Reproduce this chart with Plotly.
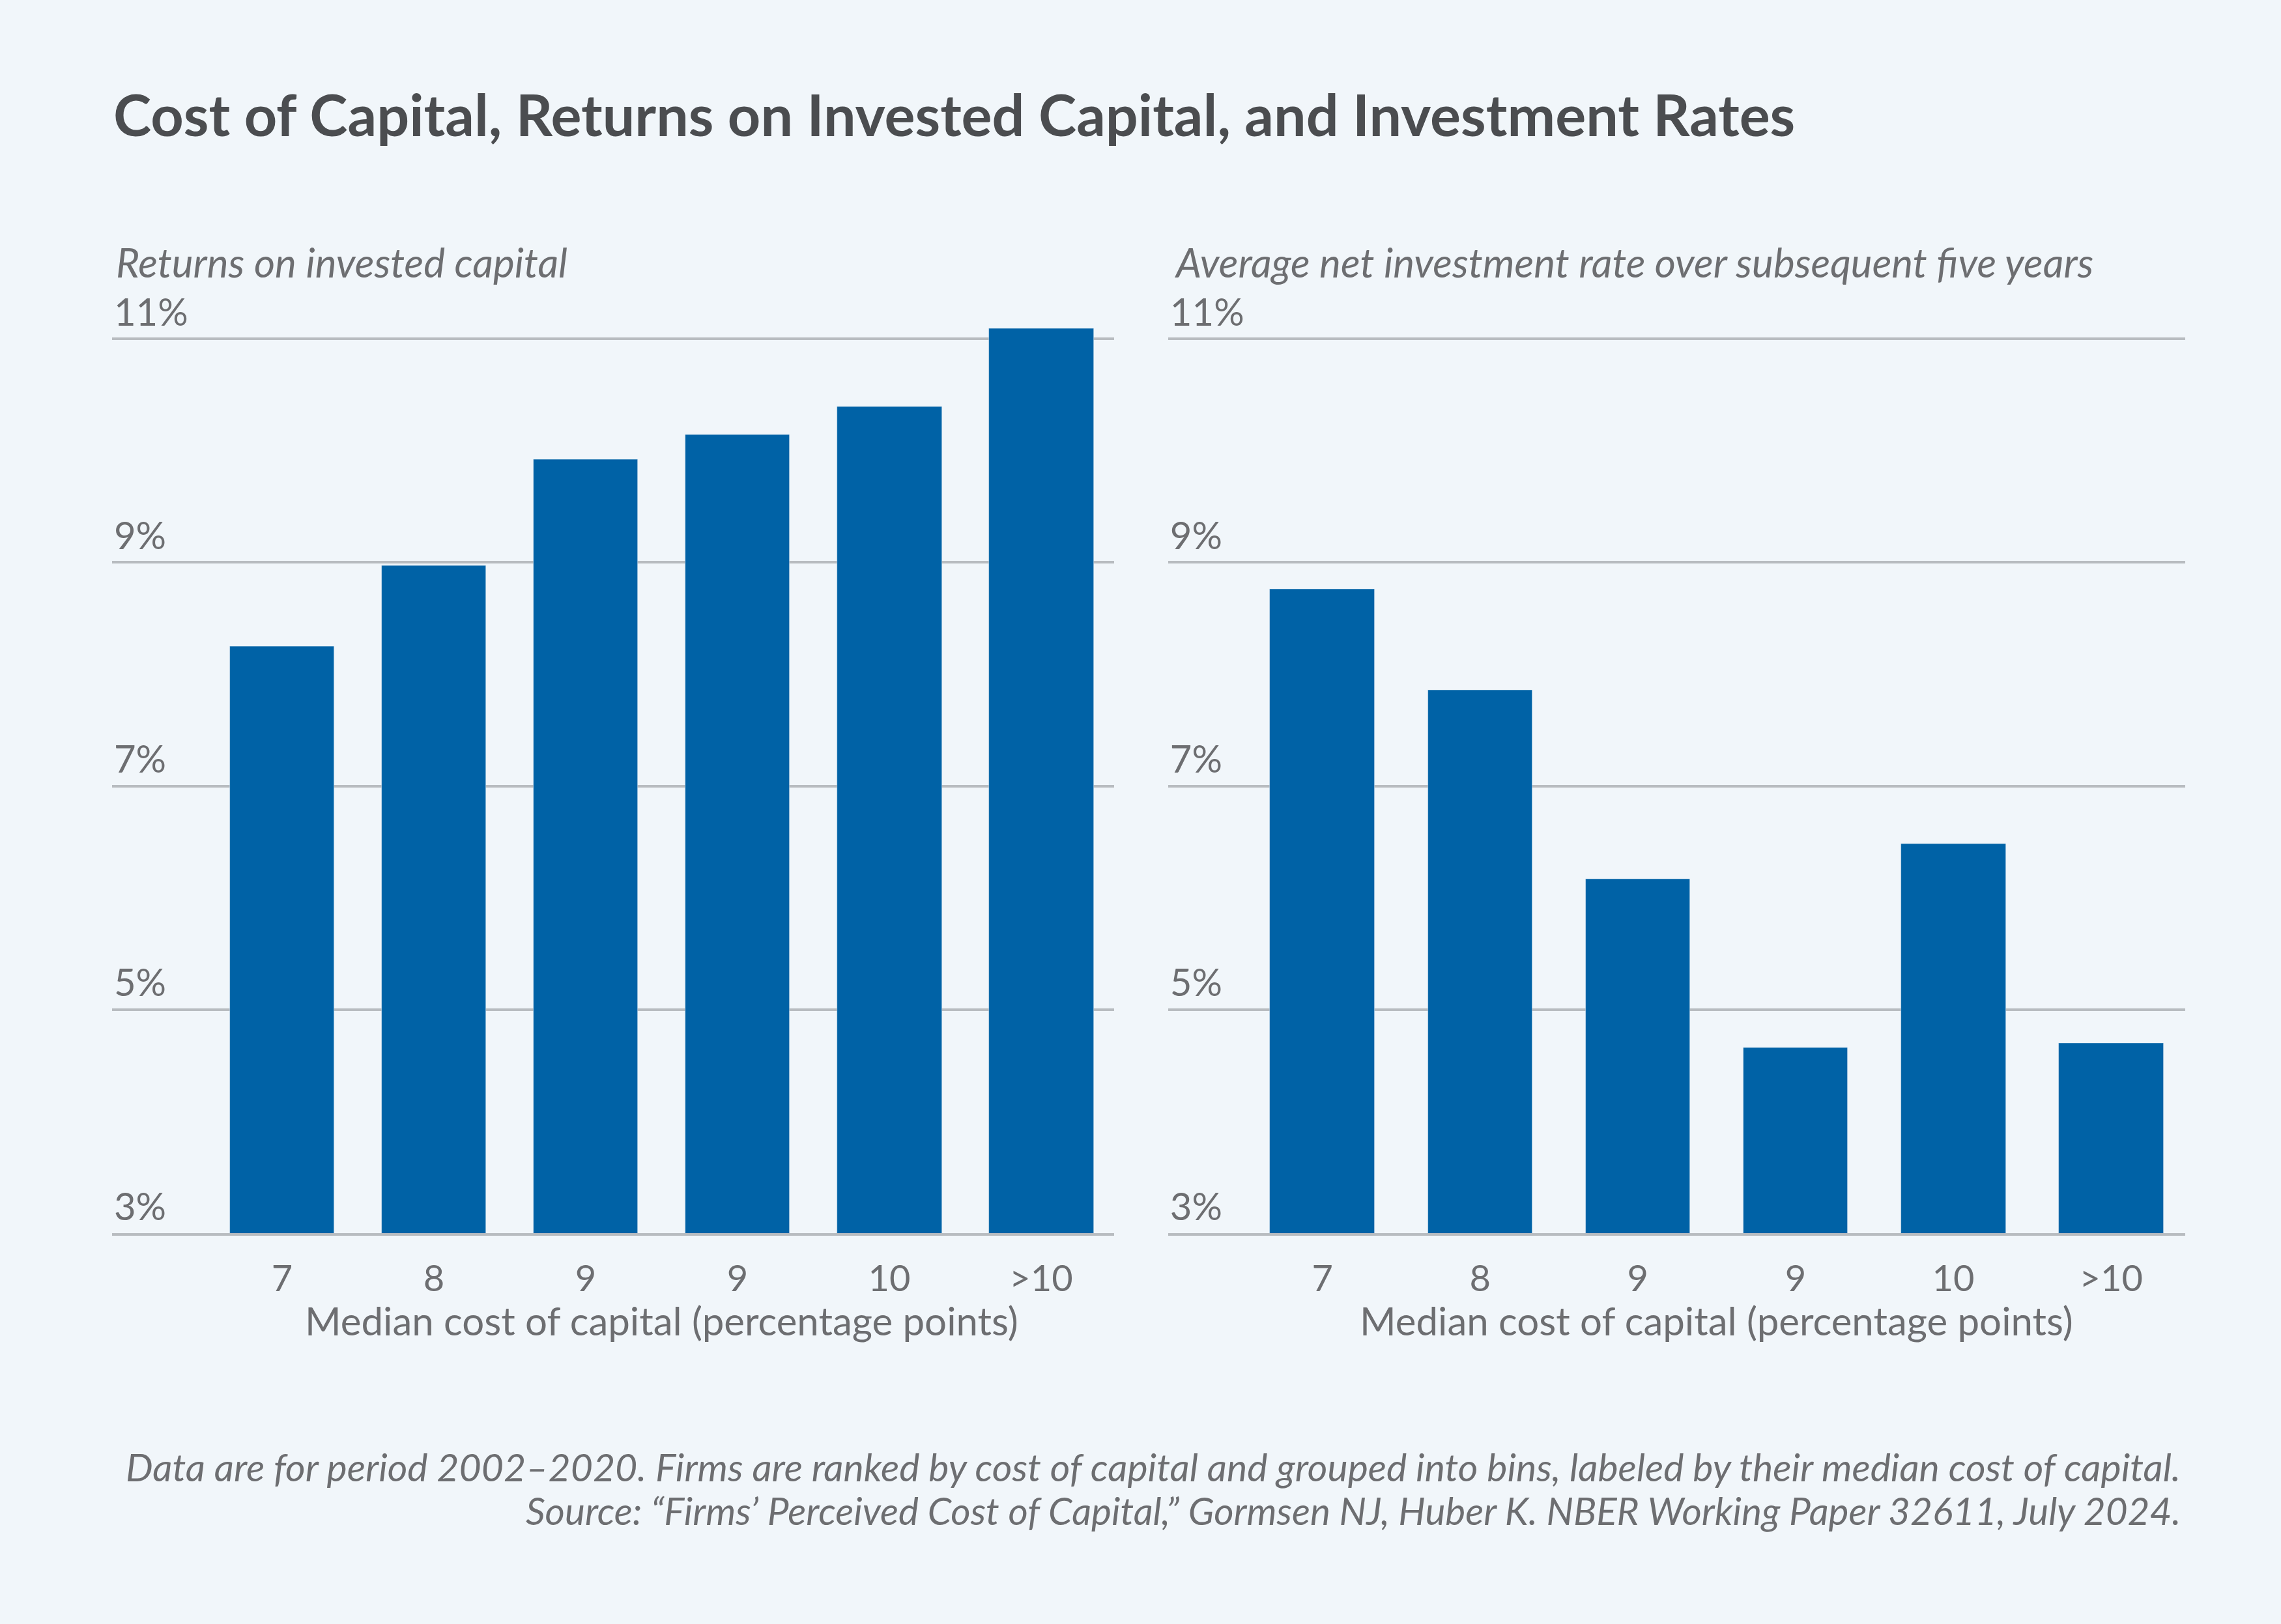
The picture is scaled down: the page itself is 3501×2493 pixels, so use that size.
import plotly.graph_objects as go

# ---- data ----
categories = ["7", "8", "9", "9", "10", ">10"]
returns_on_capital = [8.25, 8.97, 9.92, 10.14, 10.39, 11.09]
net_investment_rate = [8.76, 7.86, 6.17, 4.66, 6.48, 4.70]
y_tick_vals = [3, 5, 7, 9, 11]
y_tick_text = ["3%", "5%", "7%", "9%", "11%"]

title_text = "Cost of Capital, Returns on Invested Capital, and Investment Rates"
left_subtitle = "Returns on invested capital"
right_subtitle = "Average net investment rate over subsequent five years"
x_title = "Median cost of capital (percentage points)"
note_1 = "Data are for period 2002\u20132020. Firms are ranked by cost of capital and grouped into bins, labeled by their median cost of capital."
note_2 = "Source: \u201cFirms\u2019 Perceived Cost of Capital,\u201d Gormsen NJ, Huber K. NBER Working Paper 32611, July 2024."

# ---- style ----
W, H = 3501, 2493
BG = "#f1f6fa"
BAR = "#0062a6"
GRID = "#b8bcc0"
TXT = "#6d6e71"
TITLE_C = "#4b4d50"
FONT = "Lato"

xpos = list(range(len(categories)))

fig = go.Figure()
fig.add_trace(go.Bar(x=xpos, y=returns_on_capital, marker_color=BAR, width=0.69,
                     xaxis="x", yaxis="y", showlegend=False, hoverinfo="skip"))
fig.add_trace(go.Bar(x=xpos, y=net_investment_rate, marker_color=BAR, width=0.664,
                     xaxis="x2", yaxis="y2", showlegend=False, hoverinfo="skip"))

ydom = [0.2407, 0.8258]
yrange = [3, 11.5]

common_x = dict(tickmode="array", tickvals=xpos, ticktext=categories, ticks="",
                showgrid=False, zeroline=False, showline=True, linecolor=GRID, linewidth=4,
                tickfont=dict(family=FONT, size=56, color=TXT), ticklabelstandoff=18,
                fixedrange=True)
common_y = dict(range=yrange, tickmode="array", tickvals=y_tick_vals, ticktext=y_tick_text,
                ticks="", showgrid=True, gridcolor=GRID, gridwidth=4, zeroline=False,
                showline=False, ticklabelposition="inside top",
                tickfont=dict(family=FONT, size=58, color=TXT), domain=ydom, fixedrange=True)

fig.update_layout(
    width=W, height=H,
    paper_bgcolor=BG, plot_bgcolor=BG,
    margin=dict(l=0, r=0, t=0, b=0),
    bargap=0,
    xaxis=dict(domain=[0.0491, 0.4884], range=[-1.12, 5.48], anchor="y", **common_x),
    yaxis=dict(anchor="x", **common_y),
    xaxis2=dict(domain=[0.5121, 0.958], range=[-0.978, 5.47], anchor="y2", **common_x),
    yaxis2=dict(anchor="x2", **common_y),
)

annos = [
    dict(text="<b>" + title_text + "</b>", x=0.049, y=0.930, xref="paper", yref="paper",
         xanchor="left", yanchor="middle", showarrow=False,
         font=dict(family=FONT, size=88, color=TITLE_C)),
    dict(text="<i>" + left_subtitle + "</i>", x=0.0503, y=0.8388, xref="paper", yref="paper",
         xanchor="left", yanchor="middle", showarrow=False,
         font=dict(family=FONT, size=62, color=TXT)),
    dict(text="<i>" + right_subtitle + "</i>", x=0.514, y=0.8388, xref="paper", yref="paper",
         xanchor="left", yanchor="middle", showarrow=False,
         font=dict(family=FONT, size=62, color=TXT)),
    dict(text=x_title, x=2.5, y=0.187, xref="x", yref="paper",
         xanchor="center", yanchor="middle", showarrow=False,
         font=dict(family=FONT, size=60, color=TXT)),
    dict(text=x_title, x=2.5, y=0.187, xref="x2", yref="paper",
         xanchor="center", yanchor="middle", showarrow=False,
         font=dict(family=FONT, size=60, color=TXT)),
    dict(text="<i>" + note_1 + "</i>", x=0.9567, y=0.097, xref="paper", yref="paper",
         xanchor="right", yanchor="middle", showarrow=False,
         font=dict(family=FONT, size=59, color=TXT)),
    dict(text="<i>" + note_2 + "</i>", x=0.9567, y=0.070, xref="paper", yref="paper",
         xanchor="right", yanchor="middle", showarrow=False,
         font=dict(family=FONT, size=58.5, color=TXT)),
]
fig.update_layout(annotations=annos)

fig.write_html("out.html", config={"displayModeBar": False},
               post_script="document.body.style.margin='0';document.body.style.overflow='hidden';")
